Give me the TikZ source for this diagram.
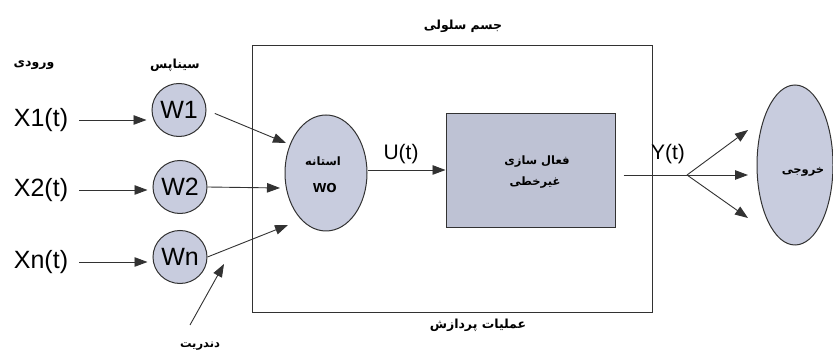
\documentclass[tikz,border=0pt]{standalone}
\usepackage{fontspec}
\setmainfont{Liberation Sans}
\newfontfamily\fa[Script=Arabic]{DejaVu Sans}
\TeXXeTstate=1
\usetikzlibrary{arrows.meta,shapes.geometric}
\definecolor{cellfill}{RGB}{200,204,222}
\definecolor{boxfill}{RGB}{190,194,212}
\definecolor{edgecol}{RGB}{50,50,50}
\newcommand{\fatxt}[1]{{\fa\bfseries\beginR #1\endR}}
\begin{document}
\begin{tikzpicture}[x=1pt,y=-1pt,
  arr/.style={draw=edgecol,line width=0.9pt,-{Triangle[length=13pt,width=9.5pt]}},
  plain/.style={draw=edgecol,line width=0.9pt},
  wcirc/.style={ellipse,draw=edgecol,line width=1pt,fill=cellfill,minimum width=54pt,minimum height=53pt,inner sep=0pt,font=\fontsize{25}{25}\selectfont},
  intext/.style={inner sep=0pt,font=\fontsize{25}{25}\selectfont},
  sig/.style={inner sep=0pt,font=\fontsize{21}{21}\selectfont},
  falabel/.style={inner sep=0pt,font=\fontsize{12.5}{14}\selectfont},
  fasmall/.style={inner sep=0pt,font=\fontsize{11.5}{13}\selectfont}]
\useasboundingbox (0,0) rectangle (833,352);
\fill[white] (0,0) rectangle (833,352);
% cell body frame
\node[draw=edgecol,line width=0.9pt,minimum width=400pt,minimum height=267pt,inner sep=0pt] (body) at (452,178.5) {};
\node[falabel] (bodylab) at (463,26) {\fatxt{جسم سلولی}};
\node[falabel] (proclab) at (478,325) {\fatxt{عملیات پردازش}};
% column labels
\node[falabel] (inlab) at (34,65) {\fatxt{ورودی}};
\node[falabel] (synlab) at (175,65) {\fatxt{سیناپس}};
% inputs
\node[intext] (x1) at (41,120) {X1(t)};
\node[intext] (x2) at (41,190) {X2(t)};
\node[intext] (xn) at (41,262) {Xn(t)};
% weights
\node[wcirc] (w1) at (179,110) {W1};
\node[wcirc] (w2) at (180,187) {W2};
\node[wcirc] (wn) at (180,257) {Wn};
\draw[arr,shorten <=11pt,shorten >=5pt] (x1.east) -- (x1.east -| w1.west);
\draw[arr,shorten <=11pt,shorten >=5pt] (x2.east) -- (x2.east -| w2.west);
\draw[arr,shorten <=11pt,shorten >=5pt] (xn.east) -- (xn.east -| wn.west);
% soma
\node[ellipse,draw=edgecol,line width=1pt,fill=cellfill,minimum width=82pt,minimum height=116pt,inner sep=0pt] (soma) at (326,173) {};
\node[fasmall] (somat) at (323,161) {\fatxt{استانه}};
\node[inner sep=0pt,font=\fontsize{17}{17}\selectfont\bfseries] (wo) at (325,188) {wo};
\coordinate (s1) at (286,143);
\coordinate (s2) at (280,188);
\coordinate (s3) at (288,225);
\draw[arr,shorten <=9pt] (w1.east) -- (s1);
\draw[arr] (w2.east) -- (s2);
\draw[arr] (wn.east) -- (s3);
% dendrite
\node[fasmall] (dend) at (200,346) {\fatxt{دندریت}};
\coordinate (d0) at (190,325);
\coordinate (d1) at (224,264);
\draw[arr] (d0) -- (d1);
% activation box
\node[draw=edgecol,line width=1pt,fill=boxfill,minimum width=169pt,minimum height=114pt,inner sep=0pt] (act) at (530.5,171) {};
\node[fasmall] (act1) at (537,162) {\fatxt{فعال سازی}};
\node[fasmall] (act2) at (535,183) {\fatxt{غیرخطی}};
\draw[arr] (soma.east |- 0,170) -- (act.west |- 0,170);
\node[sig] (ut) at (401,154) {U(t)};
% output
\coordinate (br) at (687,175);
\draw[plain] ([xshift=8pt]act.east |- br) -- (br);
\node[sig] (yt) at (668,154) {Y(t)};
\node[ellipse,draw=edgecol,line width=1pt,fill=cellfill,minimum width=76pt,minimum height=160pt,inner sep=0pt] (out) at (795,165) {};
\node[fasmall] (outlab) at (803,172) {\fatxt{خروجی}};
\coordinate (o1) at (748,130);
\coordinate (o2) at (748,175);
\coordinate (o3) at (748,218);
\draw[arr] (br) -- (o1);
\draw[arr] (br) -- (o2);
\draw[arr] (br) -- (o3);
\end{tikzpicture}
\end{document}
